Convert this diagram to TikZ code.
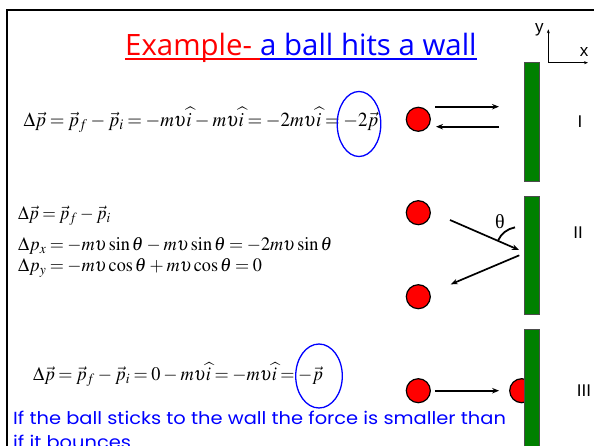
\documentclass[tikz,border=0pt]{standalone}
\usepackage{mathptmx}
\usepackage{fontspec}
\setmainfont{Liberation Serif}
\newfontfamily\comicfont{Open Sans}
\newfontfamily\bodyfont{Poppins}
\newfontfamily\arialfont{Liberation Sans}
\usetikzlibrary{arrows.meta}
\definecolor{wallgreen}{RGB}{0,128,0}
\newcommand{\tightsp}{\thickmuskip=3.5mu\relax\medmuskip=3mu\relax}
\begin{document}
\begin{tikzpicture}[x=1pt,y=-1pt,
  ball/.style={circle, fill=red, draw=black, line width=1.2pt, minimum size=24pt, inner sep=0pt},
  wall/.style={fill=wallgreen, draw=black!70, line width=0.6pt},
  arr/.style={-{Stealth[length=7pt,width=5.5pt]}, line width=1.7pt},
  axis/.style={-{Stealth[length=4pt,width=3pt]}, line width=0.6pt},
  eqn/.style={anchor=west, inner sep=0pt},
  lbl/.style={inner sep=0pt, font=\arialfont\fontsize{17}{20}\selectfont},
  ring/.style={draw=blue, line width=1.3pt},
  bluetext/.style={anchor=base west, inner sep=0pt, text=blue, font=\bodyfont\fontsize{17.5}{19}\selectfont}
]
\useasboundingbox (0,0) rectangle (594,446);
% frame
\draw[line width=2pt] (7,446) -- (7,10) -- (594,10);

% title
\node[anchor=base west, inner sep=0pt, text=red, font=\comicfont\fontsize{29.4}{34}\selectfont] (ex) at (125,56) {Example-};
\node[anchor=base west, inner sep=0pt, text=blue, font=\comicfont\fontsize{29.4}{34}\selectfont] (ab) at (260,56) {a ball hits a wall};
\draw[red, line width=1.8pt] ([yshift=-3.3pt]ex.base west) -- ([yshift=-3.3pt]ab.base west);
\draw[blue, line width=1.8pt] ([yshift=-3.3pt]ab.base west) -- ([yshift=-3.3pt]ab.base east);

% axes
\coordinate (O) at (548.3,62.7);
\coordinate (Y) at (548.3,29.3);
\coordinate (X) at (588,62.7);
\draw[axis] (O) -- (Y);
\draw[axis] (O) -- (X);
\node[lbl] (ylab) at (539.3,30) {y};
\node[lbl] (xlab) at (584,51.7) {x};

% walls (ball III right drawn first)
\node[ball] (b3r) at (521.7,390.7) {};
\path[wall] (524,62.7) rectangle (539.7,181.3);
\path[wall] (524,196) rectangle (539.7,314.3);
\path[wall] (524,329.3) rectangle (539.7,460);

% case I
\node[ball] (b1) at (418.3,119.3) {};
\coordinate (a1s) at (435,106.7);
\coordinate (a1e) at (499,106.7);
\coordinate (a2s) at (499,126.7);
\coordinate (a2e) at (436,126.7);
\draw[arr] (a1s) -- (a1e);
\draw[arr] (a2s) -- (a2e);
\node[lbl] (L1) at (580,122) {I};

\node[eqn, font=\fontsize{20}{24}\selectfont] (eq1) at (23.5,120) {\scalebox{0.944}[1]{\tightsp$\Delta\vec{p}=\vec{p}_f-\vec{p}_i=-m\upsilon\widehat{i}-m\upsilon\widehat{i}=-2m\upsilon\widehat{i}=-2\vec{p}$}};
\draw[ring] (359,124) ellipse [x radius=21.8, y radius=32.5];

% case II
\node[ball] (b2a) at (418.3,212.7) {};
\node[ball] (b2b) at (418.3,296.7) {};
\coordinate (c2in) at (450,220);
\coordinate (c2hit) at (519,250);
\coordinate (c2out) at (519.3,255.3);
\coordinate (c2end) at (450.7,284.3);
\draw[arr] (c2in) -- (c2hit);
\draw[arr] (c2out) -- (c2end);
\draw[line width=1.8pt] (c2hit) ++(-156:23) arc[start angle=-156, end angle=-100, radius=23];
\node[inner sep=0pt, font=\fontsize{20}{24}\selectfont] (th) at (500,221.7) {θ};
\node[lbl] (L2) at (578,233) {II};

\node[eqn, font=\fontsize{19}{24}\selectfont] (eq2a) at (18,216) {\scalebox{0.92}[1]{\tightsp$\Delta\vec{p}=\vec{p}_f-\vec{p}_i$}};
\node[eqn, font=\fontsize{19}{24}\selectfont] (eq2b) at (18,246) {\scalebox{0.957}[1]{\tightsp$\Delta p_x=-m\upsilon\sin\theta-m\upsilon\sin\theta=-2m\upsilon\sin\theta$}};
\node[eqn, font=\fontsize{19}{24}\selectfont] (eq2c) at (18,268.3) {\scalebox{0.957}[1]{\tightsp$\Delta p_y=-m\upsilon\cos\theta+m\upsilon\cos\theta=0$}};

% case III
\node[ball] (b3l) at (418.3,390.7) {};
\draw[arr, shorten <=4pt, shorten >=10pt] (b3l.east) -- (b3r.west);
\node[lbl] (L3) at (584,390.7) {III};

\node[eqn, font=\fontsize{19.3}{24}\selectfont] (eq3) at (33,374.3) {\scalebox{0.947}[1]{\tightsp$\Delta\vec{p}=\vec{p}_f-\vec{p}_i=0-m\upsilon\widehat{i}=-m\upsilon\widehat{i}=-\vec{p}$}};
\draw[ring] (319,376) ellipse [x radius=23.3, y radius=32];

\node[bluetext] (t1) at (13,424) {\scalebox{1.11}[1]{If the ball sticks to the wall the force is smaller than}};
\node[bluetext] (t2) at (13,448) {\scalebox{1.11}[1]{if it bounces}};
\end{tikzpicture}
\end{document}
